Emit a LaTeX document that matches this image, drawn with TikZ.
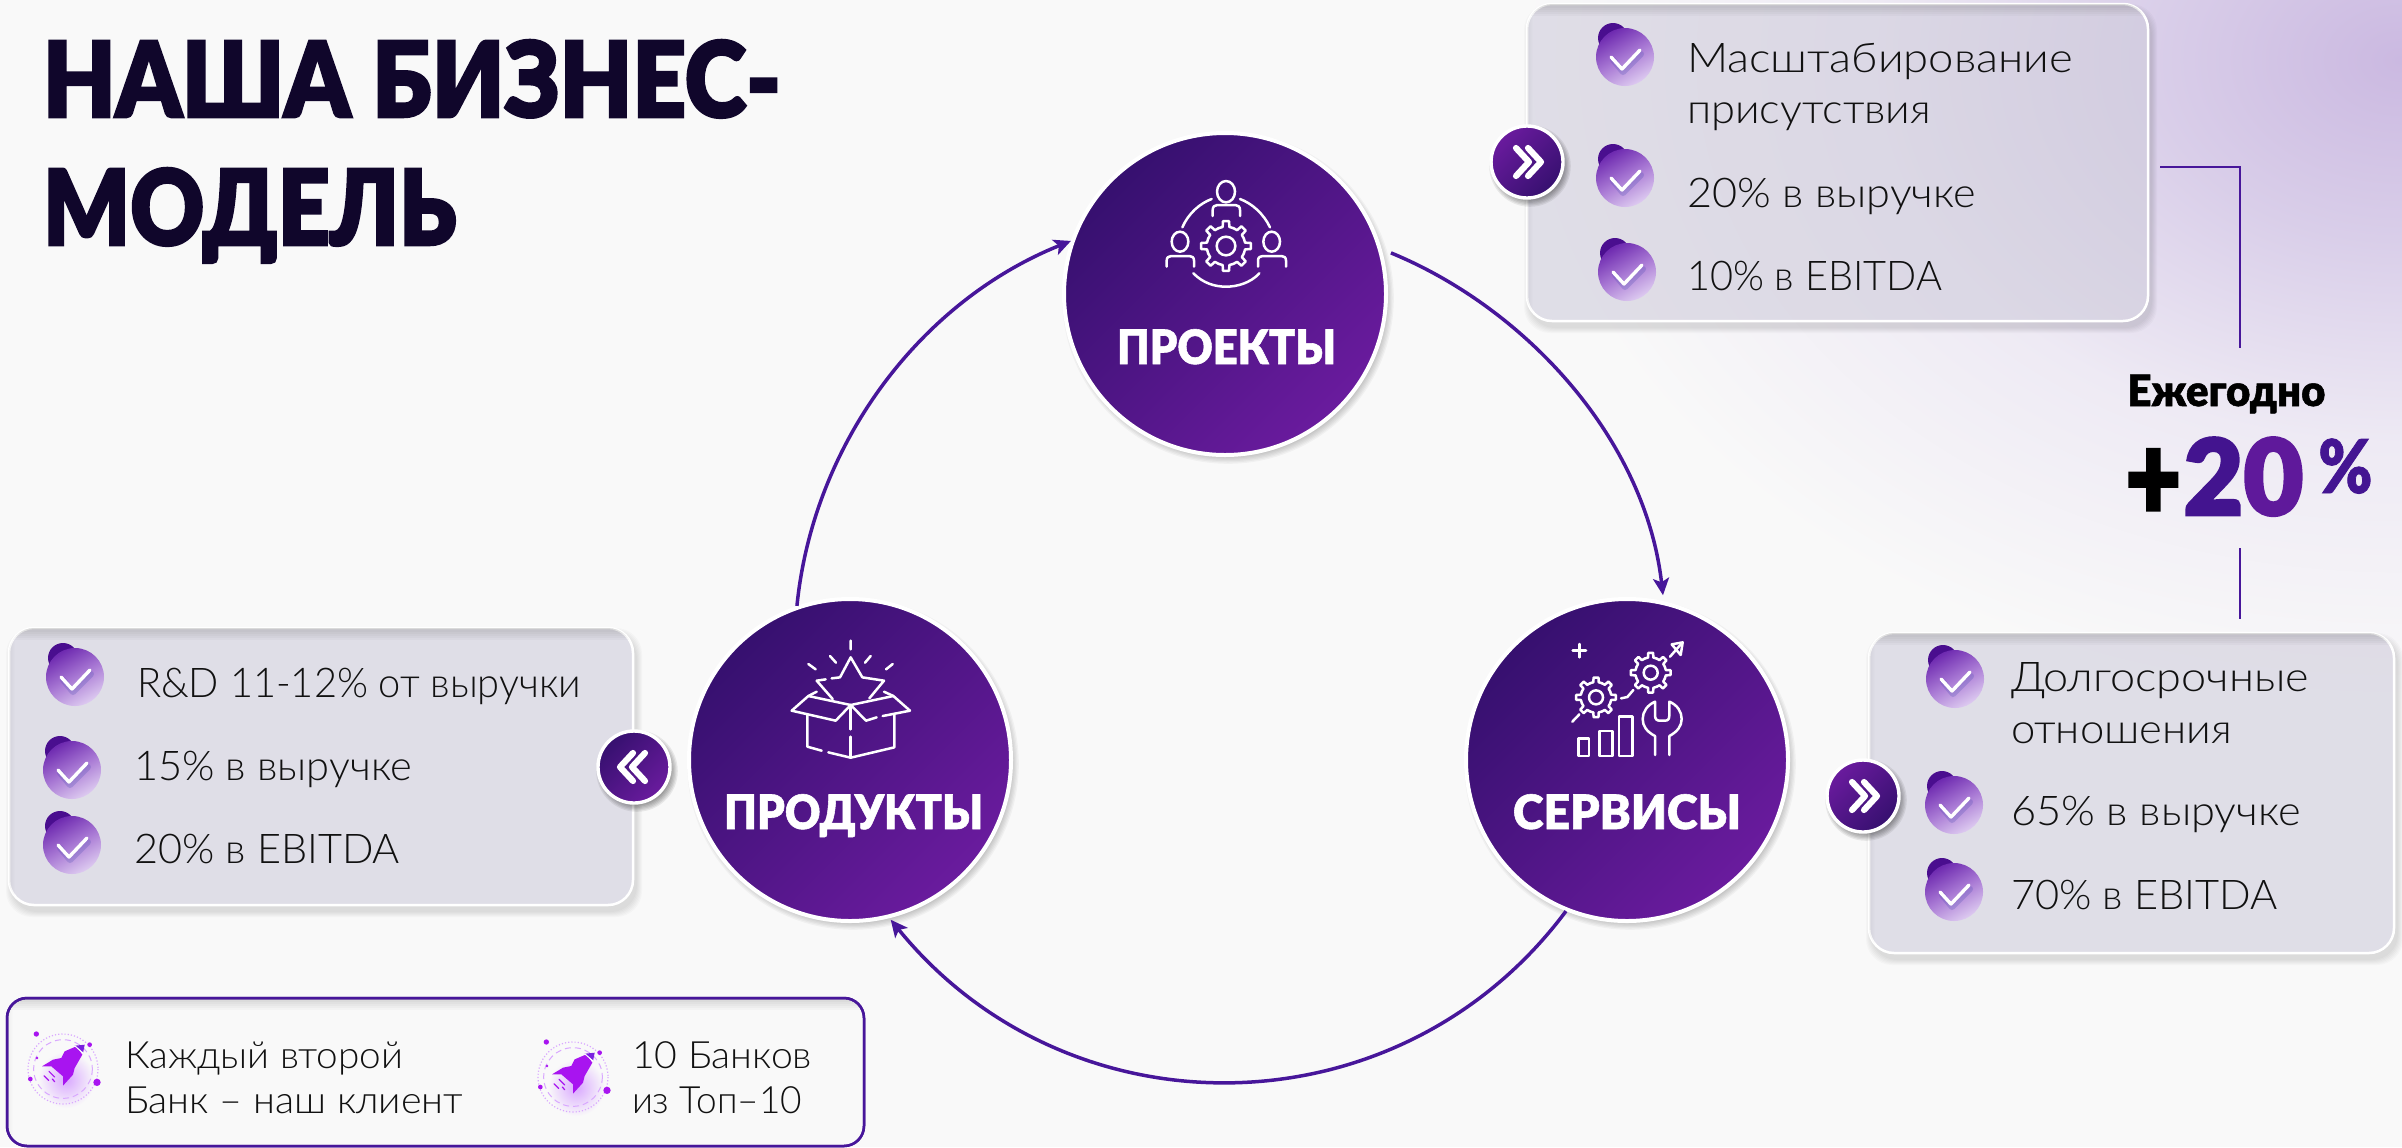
\documentclass[tikz,border=0pt]{standalone}
\usepackage{fontspec}
\usepackage{graphicx}
\usetikzlibrary{arrows.meta}
\newfontfamily\lightf{Lato Light}
\newfontfamily\blackf{Lato Black}[FakeBold=1.2]
\newfontfamily\heavyf{Lato Black}[FakeBold=2.4]
\definecolor{pagebg}{HTML}{F9F9F9}
\definecolor{ink}{HTML}{111111}
\definecolor{titleink}{HTML}{10062B}
\definecolor{lineviolet}{HTML}{47169A}
\definecolor{gradA}{HTML}{36106F}
\definecolor{gradB}{HTML}{441592}
\definecolor{gradC}{HTML}{6A1B9E}
\definecolor{panelc}{HTML}{CFCCDB}
\definecolor{glowA}{HTML}{CBB9E1}
\definecolor{glowM}{HTML}{D9CEE9}
\definecolor{glowB}{HTML}{EEEAF4}
\definecolor{rocketc}{HTML}{A814F0}
\definecolor{chkA}{HTML}{6E2AB0}
\definecolor{chkB}{HTML}{A878D4}
\definecolor{chkC}{HTML}{DDCAF0}
\definecolor{chkD}{HTML}{4A0E8F}
\definecolor{rocketg}{HTML}{D9A8FF}
\definecolor{rocketn}{HTML}{7A20E0}
\pgfdeclareradialshading{glowshade}{\pgfpoint{0bp}{0bp}}{color(0bp)=(glowA); color(7bp)=(glowM); color(15bp)=(glowB); color(25bp)=(pagebg); color(50bp)=(pagebg)}
\newsavebox\fitbox
\newcommand\fitx[2]{\sbox\fitbox{#2}\pgfmathsetmacro\fitratio{#1*0.5/\the\wd\fitbox}\scalebox{\fitratio}[1]{\usebox\fitbox}}
\tikzset{
 bigc/.style={circle,draw=white,line width=2pt,minimum size=161pt,inner sep=0pt,left color=gradA,middle color=gradB,right color=gradC,shading angle=45},
 badgeR/.style={circle,draw=white,line width=1.7pt,minimum size=36pt,inner sep=0pt,left color=gradC,middle color=gradB,right color=gradA,shading angle=45},
 badgeL/.style={circle,draw=white,line width=1.7pt,minimum size=36pt,inner sep=0pt,left color=gradA,middle color=gradB,right color=gradC,shading angle=45},
 panelbox/.style={rectangle,rounded corners=12.5pt,draw=white,line width=1.25pt,fill=panelc,fill opacity=.6,inner sep=0pt},
 framebox/.style={rectangle,rounded corners=10pt,draw=lineviolet,line width=1.25pt,fill=pagebg,inner sep=0pt},
 conn/.style={draw=lineviolet,line width=1.75pt,-{Stealth[length=8.5pt,width=8pt,inset=2pt]}},
 plainline/.style={draw=lineviolet,line width=1.1pt},
 bodytext/.style={anchor=base west,inner sep=0pt,outer sep=0pt,text=ink,font=\lightf\fontsize{20.5}{24}\selectfont},
 smalltext/.style={anchor=base west,inner sep=0pt,outer sep=0pt,text=ink,font=\lightf\fontsize{18.8}{22}\selectfont},
 titletext/.style={anchor=base west,inner sep=0pt,outer sep=0pt,text=titleink,font=\heavyf\fontsize{52.3}{60}\selectfont},
 circlabel/.style={anchor=base west,inner sep=0pt,outer sep=0pt,text=white,font=\blackf\fontsize{23.7}{28}\selectfont},
 icon/.style={draw=white,line width=1.25pt,line cap=round,line join=round},
 zoomscope/.style 2 args={shift={(#1,#2)},x=.16667pt,y=-.16667pt},
 chev/.style={draw=white,line width=3.1pt,line cap=round,line join=round},
 chkmark/.pic={
  \fill[chkD] (-12,-19) circle (15);
  \shade[left color=chkA,right color=chkC,middle color=chkB,shading angle=30] (0,0) circle (29);
  \draw[blue!40!gray,opacity=.25,line width=3pt,line cap=round,line join=round] (-12,3)--(-2,15)--(16,-3);
  \draw[white,line width=1.7pt,line cap=round,line join=round] (-14,0)--(-3,12)--(15,-7);
 },
 rocketpic/.pic={
  \begin{scope}[x=.16667pt,y=-.16667pt,shift={(-160,-148)}]
  \shade[inner color=rocketg,outer color=pagebg] (170,180) circle (85);
  \draw[rocketg,line width=.6pt,densely dotted] (160,148) circle (105);
  \draw[rocketg,line width=.5pt,densely dashed] (160,148) circle (88);
  \fill[rocketc] (80,43) circle (8) (240,75) circle (7) (262,188) circle (11) (62,178) circle (7) (82,115) circle (4);
  \fill[rocketc] (200,80)--(218,105)--(195,145)--(190,165)--(160,198)--(160,170)--(125,140)--(97,140)--(130,120)--(155,115)--(165,95)--cycle;
  \fill[rocketn] (195,78)--(225,75)--(220,100)--cycle;
  \draw[white,line width=.5pt] (195,78)--(220,100);
  \draw[rocketc,line width=.6pt,line cap=round] (103,168)--(117,182) (118,155)--(135,172) (128,178)--(135,186);
  \end{scope}
 },
}
\newcommand\softc[4][.035]{\foreach \k in {1,...,6}{\fill[black,opacity=#1] (#2+3,#3+4) circle ({#4+\k*1.3-3});}}
\newcommand\softr[5][.02]{\foreach \k in {1,...,6}{\fill[black,opacity=#1,rounded corners=13pt] ({#2+3-\k},{#3+6-\k}) rectangle ({#4+3+\k},{#5+6+\k});}}
\newcommand\innerstrips[5]{\begin{scope}\clip[rounded corners=#5] (#1,#2) rectangle (#3,#4);
 \foreach \k in {1,...,6}{\fill[black,opacity=.022] (#1,#2) rectangle (#3,{#2+2*\k});\fill[black,opacity=.007] (#1,#2) rectangle ({#1+\k},#4);}\end{scope}}
\newcommand\mkpanel[5]{%
 \begin{scope}[even odd rule]\clip[rounded corners=12.5pt] (-100,-100) rectangle (2600,1300) (#2,#3) rectangle (#4,#5);
 \softr{#2}{#3}{#4}{#5}\end{scope}
 \node[panelbox,minimum width={(#4-#2)*.5},minimum height={(#5-#3)*.5}] (#1) at ({(#2+#4)/2},{(#3+#5)/2}) {};
 \innerstrips{#2}{#3}{#4}{#5}{12.5pt}%
}
\newcommand\gearicon[5]{\begin{scope}[shift={(#1,#2)}]
 \foreach \a in {0,45,...,315}{\draw[icon] (\a-22.5:#4) -- (\a-10:#4) -- (\a-7:#3) -- (\a+7:#3) -- (\a+10:#4) -- (\a+22.5:#4);}
 \draw[icon] (0,0) circle (#5);\end{scope}}
\begin{document}
\begin{tikzpicture}[x=.5pt,y=-.5pt]
\useasboundingbox (0,0) rectangle (2402,1147);
\fill[pagebg] (0,0) rectangle (2402,1147);
\begin{scope}
\clip (0,0) rectangle (2402,1147);
\path[shading=glowshade] (2400,60) ellipse (880 and 640);
\end{scope}

% title
\node[titletext] (title1) at (43,117) {\fitx{738}{НАША БИЗНЕС-}};
\node[titletext] (title2) at (43,245) {\fitx{413}{МОДЕЛЬ}};

% big circles: shadows, then nodes
\softc{1225}{294}{161}
\softc{1627}{760}{161}
\softc{850}{760}{161}
\node[bigc] (proj) at (1225,294) {};
\node[bigc] (serv) at (1627,760) {};
\node[bigc] (prod) at (850,760) {};

% connectors
\draw[conn] (prod.109.3) .. controls (813,445) and (919,302) .. (proj.161.8);
\draw[conn,shorten <=5pt,shorten >=3pt] (proj.16.5) .. controls (1525,308) and (1645,438) .. (serv.77.7);
\draw[conn,shorten >=1pt] (serv.248.5) .. controls (1399,1135) and (1069,1139) .. (prod.-76);

% circle labels
\node[circlabel] (lproj) at (1117,364) {\fitx{219}{ПРОЕКТЫ}};
\node[circlabel] (lserv) at (1513,829) {\fitx{228}{СЕРВИСЫ}};
\node[circlabel] (lprod) at (724,829) {\fitx{259}{ПРОДУКТЫ}};

% projects icon
\begin{scope}[zoomscope={1040}{140}]
 \draw[icon] (558,155) ellipse (27 and 32);
 \draw[icon] (518,228)--(518,210) .. controls (518,200) and (524,195) .. (532,195)--(586,195) .. controls (594,195) and (600,200) .. (600,210)--(600,228);
 \draw[icon] (420,305) ellipse (25 and 30);
 \draw[icon] (380,380)--(380,362) .. controls (380,352) and (386,348) .. (394,348)--(448,348) .. controls (456,348) and (462,352) .. (462,362)--(462,380);
 \draw[icon] (695,305) ellipse (25 and 30);
 \draw[icon] (654,380)--(654,362) .. controls (654,352) and (660,348) .. (668,348)--(724,348) .. controls (732,348) and (738,352) .. (738,362)--(738,380);
 \draw[icon] (427,262) .. controls (445,220) and (480,190) .. (515,177);
 \draw[icon] (600,177) .. controls (635,190) and (670,220) .. (690,262);
 \draw[icon] (460,400) .. controls (490,430) and (525,440) .. (558,440) .. controls (590,440) and (630,430) .. (658,400);
 \gearicon{558}{318}{75}{58}{28}
\end{scope}

% services icon
\begin{scope}[zoomscope={1440}{600}]
 \draw[icon] (398,152)--(438,152) (418,132)--(418,172);
 \gearicon{468}{292}{60}{46}{21}
 \gearicon{632}{218}{60}{46}{21}
 \draw[icon] (397,365)--(418,343) (543,295)--(562,291)--(580,270) (690,170)--(725,130);
 \draw[icon] (695,133)--(728,127)--(722,165)--cycle;
 \draw[icon] (415,415) rectangle (447,468) (478,393) rectangle (518,468) (537,350) rectangle (577,468);
 \draw[icon] (645,465)--(645,408) .. controls (620,395) and (608,378) .. (608,357) .. controls (608,335) and (622,315) .. (645,305)--(645,345) .. controls (645,358) and (650,362) .. (660,362)--(674,362) .. controls (684,362) and (688,358) .. (688,345)--(688,305) .. controls (712,315) and (725,335) .. (725,357) .. controls (725,378) and (712,395) .. (688,408)--(688,465);
\end{scope}

% products icon
\begin{scope}[zoomscope={660}{600}]
 \draw[icon] (572,122)--(572,148) (510,168)--(528,188) (632,168)--(615,188) (445,192)--(467,208) (698,192)--(678,208);
 \draw[icon] (515,235)--(540,232)--(572,172)--(607,232)--(672,242)--(628,295);
 \draw[icon] (497,238)--(470,242)--(518,297);
 \draw[icon] (572,315)--(445,288)--(395,332)--(527,362)--cycle;
 \draw[icon] (572,315)--(700,288)--(750,332)--(668,348);
 \draw[icon] (650,352)--(618,362)--(572,315);
 \draw[icon] (445,288)--(470,275) (700,288)--(672,275);
 \draw[icon] (442,345)--(442,440)--(485,452) (505,457)--(572,473)--(703,442)--(703,345);
 \draw[icon] (572,315)--(572,388) (572,410)--(572,473);
\end{scope}

% panels
\mkpanel{ptop}{1527}{4}{2148}{321}
\mkpanel{pleft}{9}{628}{633}{905}
\mkpanel{pright}{1869}{633}{2394}{953}

% bottom frame
\node[framebox,minimum width=428.5pt,minimum height=74pt] (pbottom) at (435.5,1072) {};
\innerstrips{7}{998}{864}{1146}{10pt}
\node[framebox,fill=none,minimum width=428.5pt,minimum height=74pt] (pbottomline) at (435.5,1072) {};

% year connector
\coordinate (c1) at (2160,167);
\coordinate (c2) at (2240,348);
\coordinate (c3) at (2240,548);
\coordinate (c4) at (2240,619);
\draw[plainline] (c1) -| (c2);
\draw[plainline] (c3) -- (c4);

% yearly label
\node[anchor=base west,inner sep=0pt,text=black,font=\blackf\fontsize{21.6}{26}\selectfont] (yearly) at (2127,406) {\fitx{198}{Ежегодно}};
\node[anchor=base west,inner sep=0pt,text=black,font=\heavyf\fontsize{60}{68}\selectfont] (plus) at (2125,520) {\fitx{56}{+}};
\node[anchor=base west,inner sep=0pt,font=\heavyf\fontsize{52.7}{60}\selectfont] (twenty) at (2183,515) {\fitx{120}{\textcolor{gradB!90!gradA}{2}\textcolor{gradC!70!gradB}{0}}};
\node[anchor=base west,inner sep=0pt,text=gradB,font=\blackf\fontsize{37}{44}\selectfont] (pct) at (2318,493) {\fitx{54}{\%}};

% check marks
\foreach \x/\y in {1625/57,1625/178,1627/272,75/677,72/770,72/845,1955/679,1954/805,1954/892}{\pic at (\x,\y) {chkmark};}

% panel texts
\node[bodytext] (a1) at (1687,72) {\fitx{386}{Масштабирование}};
\node[bodytext] (a2) at (1687,123) {\fitx{244}{присутствия}};
\node[bodytext] (a3) at (1687,207) {\fitx{289}{20\% в выручке}};
\node[bodytext] (a4) at (1687,290) {\fitx{255}{10\% в EBITDA}};
\node[bodytext] (b1) at (137,697) {\fitx{444}{R\&D 11-12\% от выручки}};
\node[bodytext] (b2) at (134,780) {\fitx{278}{15\% в выручке}};
\node[bodytext] (b3) at (134,863) {\fitx{266}{20\% в EBITDA}};
\node[bodytext] (d1) at (2011,691) {\fitx{298}{Долгосрочные}};
\node[bodytext] (d2) at (2011,743) {\fitx{221}{отношения}};
\node[bodytext] (d3) at (2011,825) {\fitx{290}{65\% в выручке}};
\node[bodytext] (d4) at (2011,909) {\fitx{267}{70\% в EBITDA}};

% badges
\softc[.07]{1527}{162}{36}
\softc[.07]{634}{767}{36}
\softc[.07]{1863}{796}{36}
\node[badgeR] (ba) at (1527,162) {};
\node[badgeL] (bb) at (634,767) {};
\node[badgeR] (bd) at (1863,796) {};
\begin{scope}[shift={(ba)}]
 \draw[chev] (-11,-14)--(2,0)--(-11,14) (1,-14)--(14,0)--(1,14);
\end{scope}
\begin{scope}[shift={(bb)}]
 \draw[chev] (11,-14)--(-2,0)--(11,14) (-1,-14)--(-14,0)--(-1,14);
\end{scope}
\begin{scope}[shift={(bd)}]
 \draw[chev] (-11,-14)--(2,0)--(-11,14) (1,-14)--(14,0)--(1,14);
\end{scope}

% bottom frame content
\pic at (63,1069) {rocketpic};
\pic at (573,1077) {rocketpic};
\node[smalltext] (e1) at (125,1068) {\fitx{278}{Каждый второй}};
\node[smalltext] (e2) at (125,1113) {\fitx{338}{Банк – наш клиент}};
\node[smalltext] (e3) at (632,1068) {\fitx{180}{10 Банков}};
\node[smalltext] (e4) at (632,1113) {\fitx{170}{из Топ–10}};
\end{tikzpicture}
\end{document}
